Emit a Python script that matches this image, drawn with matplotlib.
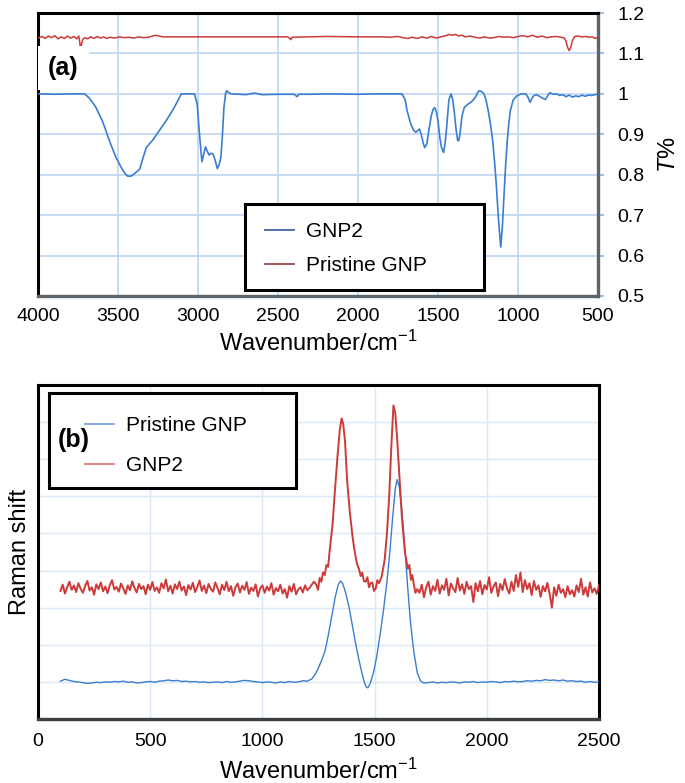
import numpy as np
import matplotlib.pyplot as plt
from matplotlib.lines import Line2D
from matplotlib.patches import Rectangle

plt.rcParams['font.family'] = ['Liberation Sans', 'DejaVu Sans']
plt.rcParams['mathtext.fontset'] = 'custom'
plt.rcParams['mathtext.rm'] = 'Liberation Sans'
plt.rcParams['mathtext.it'] = 'Liberation Sans:italic'

# ---- (a) FTIR ----
ir_gnp2_x = [4000, 3900, 3800, 3710, 3680, 3640, 3600, 3583, 3550, 3515, 3480, 3455, 3438, 3415,
             3390, 3364, 3345, 3323, 3300, 3282, 3240, 3200, 3150, 3104, 3060, 3022, 3005, 2994,
             2982, 2975, 2965, 2953, 2942, 2931, 2918, 2906, 2892, 2879, 2868, 2857, 2847, 2838,
             2828, 2821, 2805, 2789, 2700, 2650, 2600, 2500, 2400, 2380, 2370, 2300, 2200, 2000,
             1900, 1800, 1725, 1705, 1693, 1670, 1651, 1638, 1625, 1616, 1605, 1592, 1583, 1570,
             1555, 1542, 1530, 1520, 1510, 1500, 1488, 1478, 1465, 1455, 1446, 1432, 1418, 1408,
             1399, 1388, 1377, 1370, 1363, 1350, 1336, 1315, 1295, 1280, 1267, 1250, 1240, 1225,
             1213, 1200, 1186, 1172, 1158, 1146, 1136, 1122, 1108, 1098, 1089, 1078, 1067, 1058,
             1048, 1030, 1007, 980, 952, 938, 925, 914, 903, 885, 870, 850, 829, 815, 801, 780,
             760, 740, 720, 700, 680, 660, 640, 620, 600, 580, 560, 540, 520, 500]
ir_gnp2_y = [1.000, 0.999, 1.000, 1.000, 0.990, 0.968, 0.935, 0.917, 0.880, 0.845, 0.818, 0.802, 0.796, 0.797,
             0.805, 0.814, 0.840, 0.867, 0.878, 0.886, 0.910, 0.933, 0.965, 1.000, 1.000, 1.000, 0.975, 0.917,
             0.860, 0.832, 0.850, 0.869, 0.858, 0.849, 0.853, 0.851, 0.835, 0.815, 0.825, 0.843, 0.900, 0.966,
             1.000, 1.008, 1.002, 1.000, 0.998, 1.002, 0.998, 0.999, 0.999, 0.993, 0.999, 0.999, 1.000, 0.999,
             1.000, 1.000, 1.000, 0.985, 0.958, 0.925, 0.909, 0.905, 0.910, 0.913, 0.900, 0.878, 0.867, 0.876,
             0.915, 0.946, 0.962, 0.966, 0.955, 0.933, 0.890, 0.867, 0.855, 0.880, 0.917, 0.985, 1.000, 0.985,
             0.958, 0.915, 0.884, 0.885, 0.900, 0.945, 0.966, 0.974, 0.979, 0.985, 0.991, 1.005, 1.008, 1.005,
             1.000, 0.985, 0.958, 0.925, 0.884, 0.830, 0.777, 0.690, 0.621, 0.670, 0.736, 0.820, 0.884, 0.925,
             0.958, 0.985, 0.995, 1.000, 1.000, 0.992, 0.979, 0.988, 0.995, 0.998, 0.995, 0.990, 0.986, 0.995, 1.003, 0.999,
             1.000, 0.996, 0.998, 0.993, 0.997, 0.992, 0.995, 0.993, 0.997, 0.994, 0.997, 0.996, 0.998, 0.999]

ir_pristine_x = [4000, 3975, 3955, 3935, 3915, 3895, 3875, 3855, 3835, 3815, 3795, 3775, 3758, 3745,
                 3738, 3734, 3728, 3720, 3705, 3690, 3670, 3650, 3630, 3610, 3590, 3570, 3550, 3520,
                 3490, 3460, 3430, 3400, 3370, 3340, 3310, 3285, 3265, 3245, 3220, 3150, 3000, 2800,
                 2600, 2440, 2425, 2420, 2412, 2300, 2200, 2000, 1850, 1800, 1750, 1720, 1690, 1660,
                 1630, 1600, 1570, 1540, 1510, 1480, 1450, 1430, 1410, 1390, 1370, 1350, 1330, 1300,
                 1270, 1240, 1210, 1180, 1150, 1120, 1090, 1060, 1030, 1000, 970, 940, 910, 880, 850,
                 820, 790, 760, 730, 710, 700, 690, 680, 670, 660, 645, 625, 600, 575, 555, 535, 520,
                 505, 500]
ir_pristine_y = [1.138, 1.142, 1.137, 1.143, 1.139, 1.144, 1.136, 1.141, 1.137, 1.143, 1.138, 1.142, 1.136, 1.143,
                 1.125, 1.103, 1.122, 1.135, 1.139, 1.136, 1.141, 1.137, 1.142, 1.138, 1.141, 1.137, 1.140, 1.138,
                 1.141, 1.139, 1.140, 1.138, 1.141, 1.139, 1.140, 1.143, 1.145, 1.143, 1.141, 1.141, 1.141, 1.141,
                 1.141, 1.141, 1.137, 1.134, 1.140, 1.141, 1.142, 1.141, 1.141, 1.140, 1.142, 1.139, 1.137, 1.140,
                 1.137, 1.141, 1.138, 1.142, 1.138, 1.141, 1.144, 1.147, 1.145, 1.147, 1.143, 1.145, 1.141, 1.143,
                 1.140, 1.138, 1.141, 1.138, 1.139, 1.142, 1.140, 1.141, 1.139, 1.142, 1.144, 1.141, 1.145, 1.140, 1.143,
                 1.139, 1.141, 1.142, 1.140, 1.138, 1.130, 1.115, 1.107, 1.115, 1.132, 1.142, 1.143, 1.141, 1.142, 1.140, 1.141, 1.137,
                 1.139, 1.140]

ir_xticks = [4000, 3500, 3000, 2500, 2000, 1500, 1000, 500]
ir_yticks = [0.5, 0.6, 0.7, 0.8, 0.9, 1.0, 1.1, 1.2]

# ---- (b) Raman ----
# pristine GNP: baseline below the D band, peak region, baseline after G band
raman_pristine_lo = [1.02, 1.07, 1.04, 1.01, 1.00, 0.98, 0.96, 0.97, 0.99, 0.98,
                     1.00, 0.99, 1.01, 1.00, 1.02, 0.99, 1.00, 0.97, 0.98, 1.00,
                     1.01, 0.99, 1.02, 1.03, 1.05, 1.03, 1.04, 1.01, 1.02, 1.00,
                     1.01, 0.99, 1.00, 0.98, 0.99, 1.00, 0.98, 1.01, 0.99, 1.00,
                     1.02, 1.04, 1.03, 1.01, 1.00, 0.98, 1.00, 0.99, 0.97, 1.00,
                     0.98, 1.01, 0.99, 1.00, 1.03, 1.02, 1.08]
raman_pristine_pk_x = [1235, 1250, 1265, 1280, 1295, 1310, 1325, 1338, 1348, 1358, 1370, 1385,
                       1400, 1415, 1430, 1445, 1455, 1463, 1470, 1480, 1495, 1510, 1525, 1540,
                       1555, 1568, 1580, 1592, 1600, 1610, 1622, 1635, 1648, 1660, 1675, 1690, 1705]
raman_pristine_pk_y = [1.20, 1.38, 1.60, 1.85, 2.30, 2.80, 3.30, 3.62, 3.72, 3.65, 3.42, 3.05,
                       2.55, 2.05, 1.60, 1.20, 0.98, 0.86, 0.84, 0.95, 1.25, 1.70, 2.30, 2.95,
                       3.70, 4.50, 5.40, 6.20, 6.45, 6.25, 5.60, 4.60, 3.50, 2.60, 1.80, 1.25, 1.02]
raman_pristine_hi = [0.97, 0.98, 1.00, 0.97, 0.99, 0.98, 1.00, 0.99, 0.97, 1.00,
                     0.99, 1.01, 0.98, 1.00, 0.99, 1.01, 1.00, 0.98, 1.01, 1.00,
                     1.02, 1.00, 1.01, 1.03, 1.02, 1.04, 1.03, 1.06, 1.04, 1.05,
                     1.03, 1.05, 1.02, 1.03, 1.01, 1.02, 0.99, 1.01, 0.99, 1.00]

# GNP2
raman_gnp2_lo = [3.45, 3.62, 3.38, 3.55, 3.70, 3.48, 3.60, 3.42, 3.66, 3.51,
                 3.40, 3.58, 3.72, 3.46, 3.55, 3.35, 3.63, 3.50, 3.68, 3.44,
                 3.57, 3.39, 3.61, 3.74, 3.49, 3.56, 3.43, 3.65, 3.52, 3.37,
                 3.60, 3.47, 3.71, 3.53, 3.41, 3.64, 3.50, 3.58, 3.36, 3.62,
                 3.48, 3.69, 3.45, 3.55, 3.40, 3.66, 3.52, 3.76, 3.44, 3.59,
                 3.38, 3.63, 3.50, 3.70, 3.46, 3.57, 3.34, 3.61, 3.49, 3.67,
                 3.42, 3.56, 3.73, 3.45, 3.60, 3.39, 3.64, 3.51, 3.43, 3.68,
                 3.53, 3.36, 3.62, 3.47, 3.70, 3.44, 3.58, 3.32, 3.55, 3.65,
                 3.41, 3.59, 3.48, 3.69, 3.37, 3.54, 3.45, 3.63, 3.30, 3.52,
                 3.60, 3.40, 3.57, 3.46, 3.66, 3.35, 3.53, 3.44, 3.62, 3.38,
                 3.50, 3.27, 3.58, 3.43, 3.64, 3.36, 3.49, 3.55, 3.41, 3.60,
                 3.47, 3.53, 3.62, 3.70]
raman_gnp2_pk_x = [1240, 1248, 1255, 1263, 1270, 1278, 1285, 1293, 1300, 1312, 1325, 1335, 1345,
                   1353, 1360, 1368, 1378, 1390, 1402, 1409, 1416, 1423, 1430, 1438, 1445, 1452,
                   1460, 1468, 1475, 1482, 1490, 1497, 1505, 1512, 1520, 1532, 1545, 1555, 1565,
                   1575, 1584, 1592, 1600, 1610, 1622, 1635, 1648, 1655, 1662, 1668, 1675, 1682, 1690]
raman_gnp2_pk_y = [3.62, 3.48, 3.80, 3.70, 3.95, 3.88, 4.15, 4.10, 4.55, 5.20, 6.30, 7.10, 7.80,
                   8.10, 7.95, 7.50, 6.40, 5.55, 4.90, 4.60, 4.35, 4.15, 4.05, 3.85, 3.95, 3.72,
                   3.70, 3.82, 3.55, 3.66, 3.68, 3.45, 3.52, 3.74, 3.66, 3.85, 4.30, 5.00, 6.00,
                   7.40, 8.45, 8.25, 7.60, 6.60, 5.40, 4.50, 4.05, 4.15, 3.75, 3.88, 3.62, 3.40, 3.50]
raman_gnp2_hi = [3.40, 3.62, 3.28, 3.55, 3.70, 3.35, 3.58, 3.45, 3.75, 3.38,
                 3.60, 3.48, 3.78, 3.33, 3.65, 3.52, 3.42, 3.80, 3.46, 3.63,
                 3.37, 3.70, 3.50, 3.58, 3.15, 3.66, 3.44, 3.72, 3.36, 3.61,
                 3.49, 3.82, 3.40, 3.57, 3.68, 3.31, 3.64, 3.47, 3.77, 3.52,
                 3.38, 3.70, 3.45, 3.88, 3.56, 3.95, 3.42, 3.74, 3.50, 3.66,
                 3.34, 3.72, 3.48, 3.60, 3.29, 3.58, 3.44, 3.67, 3.38, 3.00,
                 3.55, 3.32, 3.62, 3.40, 3.50, 3.28, 3.58, 3.36, 3.47, 3.30,
                 3.60, 3.42, 3.78, 3.35, 3.55, 3.30, 3.68, 3.41, 3.52, 3.37, 3.60]

raman_xticks = [0, 500, 1000, 1500, 2000, 2500]
raman_grid_y = [1, 2, 3, 4, 5, 6, 7, 8]

pristine_x = np.concatenate([np.arange(100, 1221, 20), raman_pristine_pk_x, np.arange(1720, 2501, 20)])
pristine_y = np.concatenate([raman_pristine_lo, raman_pristine_pk_y, raman_pristine_hi])
gnp2_x = np.concatenate([np.arange(100, 1231, 10), raman_gnp2_pk_x, np.arange(1700, 2501, 10)])
gnp2_y = np.concatenate([raman_gnp2_lo, raman_gnp2_pk_y, raman_gnp2_hi])

BLUE = '#3b7dd0'
RED = '#cc3a3a'
DARK_SPINE = '#5b6468'


def boxed_legend(ax, handles, labels, box, anchor, spacing):
    # frame drawn by hand so the entries can sit indented inside a wider box
    ax.add_patch(Rectangle(box[:2], box[2], box[3], transform=ax.transAxes,
                           fc='white', ec='black', lw=2.2, zorder=5, clip_on=False))
    leg = ax.legend(handles, labels, loc='upper left', bbox_to_anchor=anchor,
                    fontsize=15, frameon=False, borderpad=0, borderaxespad=0,
                    labelspacing=spacing, handlelength=1.4, handletextpad=0.6)
    leg.set_zorder(6)
    return leg


fig = plt.figure(figsize=(6.85, 7.83), dpi=100)

# ---------------- panel (a) ----------------
ax1 = fig.add_axes([38 / 685, 1 - 296 / 783, 560 / 685, 283 / 783])
ax1.plot(ir_pristine_x, ir_pristine_y, color=RED, lw=1.1, zorder=3)
ax1.plot(ir_gnp2_x, ir_gnp2_y, color=BLUE, lw=1.2, zorder=3)
ax1.set_xlim(4000, 500)
ax1.set_ylim(0.5, 1.2)
ax1.set_xticks(ir_xticks)
ax1.set_yticks(ir_yticks)
ax1.set_yticklabels(['%g' % v for v in ir_yticks])
ax1.yaxis.tick_right()
ax1.yaxis.set_label_position('right')
ax1.grid(True, color='#bcd6f2', lw=1.2, zorder=0)
ax1.set_axisbelow(True)
ax1.tick_params(axis='x', length=0, pad=9, labelsize=14)
ax1.tick_params(axis='y', direction='out', length=4, width=1.2, color='#8cb8e8', pad=10, labelsize=14)
ax1.set_xlabel('Wavenumber/cm$^{-1}$', fontsize=17, labelpad=4)
ax1.set_ylabel('$\\mathit{T}$%', fontsize=17, rotation=90, labelpad=10)
for side in ['left', 'top']:
    ax1.spines[side].set_color('black')
    ax1.spines[side].set_linewidth(2.2)
for side in ['right', 'bottom']:
    ax1.spines[side].set_color(DARK_SPINE)
    ax1.spines[side].set_linewidth(2.4)

ax1.text(0.045, 0.806, '(a)', transform=ax1.transAxes, fontsize=18, fontweight='bold',
         ha='center', va='center', zorder=4,
         bbox=dict(boxstyle='square,pad=0.4', fc='white', ec='none'))

h_a = [Line2D([], [], color='#4a62a6', lw=1.3), Line2D([], [], color='#a2444a', lw=1.3)]
boxed_legend(ax1, h_a, ['GNP2', 'Pristine GNP'],
             box=(0.370, 0.021, 0.427, 0.304), anchor=(0.405, 0.262), spacing=0.72)

# ---------------- panel (b) ----------------
ax2 = fig.add_axes([38 / 685, 1 - 719 / 783, 561 / 685, 334 / 783])
ax2.plot(pristine_x, pristine_y, color=BLUE, lw=1.0, zorder=3)
ax2.plot(gnp2_x, gnp2_y, color=RED, lw=1.4, zorder=3)
ax2.set_xlim(0, 2500)
ax2.set_ylim(0, 9)
ax2.set_xticks(raman_xticks)
ax2.set_yticks(raman_grid_y)
ax2.grid(True, color='#dbe8f7', lw=1.0, zorder=0)
ax2.set_axisbelow(True)
ax2.tick_params(axis='x', length=0, pad=10, labelsize=14)
ax2.tick_params(axis='y', length=0, labelleft=False)
ax2.set_xlabel('Wavenumber/cm$^{-1}$', fontsize=17, labelpad=6)
ax2.set_ylabel('Raman shift', fontsize=17, labelpad=5)
for side in ['left', 'top', 'right']:
    ax2.spines[side].set_color('black')
    ax2.spines[side].set_linewidth(2.2)
ax2.spines['bottom'].set_color('#3a3f42')
ax2.spines['bottom'].set_linewidth(2.4)

h_b = [Line2D([], [], color='#7ba5de', lw=1.3), Line2D([], [], color='#e07b7b', lw=1.3)]
boxed_legend(ax2, h_b, ['Pristine GNP', 'GNP2'],
             box=(0.0196, 0.692, 0.44, 0.284), anchor=(0.083, 0.907), spacing=1.0)
ax2.text(0.064, 0.835, '(b)', transform=ax2.transAxes, fontsize=18, fontweight='bold',
         ha='center', va='center', zorder=10)

fig.savefig('out.png', dpi=100)
